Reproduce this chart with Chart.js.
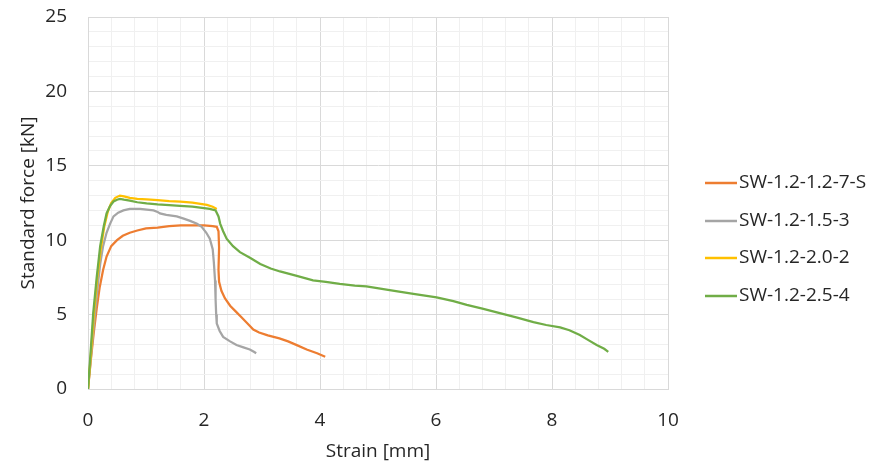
<!DOCTYPE html>
<html>
<head>
<meta charset="utf-8">
<script src="https://cdn.jsdelivr.net/npm/chart.js@4"></script>
<style>
html,body{margin:0;padding:0;background:#fff;}
#wrap{width:878px;height:468px;position:relative;}
</style>
</head>
<body>
<div id="wrap"><canvas id="c" width="878" height="468"></canvas></div>
<script>
const seriesLabels = ['SW-1.2-1.2-7-S', 'SW-1.2-1.5-3', 'SW-1.2-2.0-2', 'SW-1.2-2.5-4'];
const seriesColors = ['#ED7D31', '#A5A5A5', '#FFC000', '#70AD47'];

const orangeX = [0,0.05,0.1,0.15,0.2,0.26,0.32,0.4,0.5,0.6,0.72,0.85,1.0,1.2,1.4,1.6,1.8,2.0,2.15,2.22,2.25,2.26,2.25,2.26,2.3,2.36,2.45,2.55,2.65,2.75,2.85,2.95,3.1,3.3,3.45,3.6,3.77,3.95,4.09];
const orangeY = [0,2.0,3.8,5.4,6.8,8.0,8.9,9.6,10.0,10.3,10.5,10.65,10.8,10.85,10.95,11.0,11.0,11.0,10.95,10.9,10.6,9.5,8.0,7.2,6.6,6.1,5.6,5.2,4.8,4.4,4.0,3.8,3.6,3.4,3.2,2.95,2.65,2.4,2.17];

const grayX = [0,0.05,0.12,0.17,0.21,0.26,0.32,0.38,0.44,0.52,0.61,0.72,0.9,1.13,1.2,1.24,1.35,1.53,1.65,1.76,1.88,1.96,2.04,2.1,2.15,2.17,2.19,2.2,2.21,2.22,2.27,2.33,2.45,2.56,2.68,2.79,2.86,2.9];
const grayY = [0,2.1,5.1,7.0,8.4,9.6,10.5,11.1,11.6,11.85,12.0,12.1,12.1,12.0,11.9,11.8,11.7,11.6,11.45,11.3,11.1,10.9,10.5,10.1,9.4,8.5,7.3,6.0,5.0,4.4,3.9,3.5,3.2,2.96,2.8,2.66,2.5,2.4];

const yellowX = [0,0.05,0.1,0.16,0.22,0.28,0.34,0.4,0.47,0.55,0.62,0.72,0.85,1.01,1.2,1.4,1.59,1.8,2.05,2.15,2.22];
const yellowY = [0,2.3,5.0,7.5,9.4,10.9,11.9,12.5,12.85,13.0,12.95,12.85,12.78,12.74,12.7,12.62,12.6,12.52,12.37,12.25,12.1];

const greenX = [0,0.04,0.09,0.15,0.21,0.27,0.32,0.38,0.44,0.5,0.55,0.62,0.72,0.85,1.01,1.2,1.4,1.59,1.8,2.0,2.1,2.2,2.25,2.28,2.33,2.39,2.5,2.62,2.8,2.97,3.15,3.31,3.6,3.88,4.1,4.34,4.6,4.8,5.2,5.61,6.01,6.3,6.53,6.8,7.1,7.4,7.68,7.9,8.14,8.3,8.48,8.62,8.77,8.9,8.97];
const greenY = [0,2.2,5.1,7.5,9.6,10.9,11.8,12.3,12.6,12.72,12.77,12.72,12.66,12.55,12.47,12.4,12.35,12.3,12.25,12.15,12.1,12.0,11.6,11.1,10.6,10.1,9.6,9.2,8.8,8.4,8.1,7.9,7.6,7.3,7.2,7.06,6.95,6.9,6.65,6.4,6.16,5.9,5.65,5.4,5.1,4.8,4.5,4.3,4.14,3.95,3.63,3.3,2.96,2.7,2.5];

const xTickLabels = [0, 2, 4, 6, 8, 10];
const yTickLabels = [0, 5, 10, 15, 20, 25];

const FONT = "'Open Sans', 'Noto Sans', sans-serif";
const TEXT = '#262626';

function pts(xs, ys) { return xs.map((x, i) => ({x: x, y: ys[i]})); }
const seriesData = [pts(orangeX, orangeY), pts(grayX, grayY), pts(yellowX, yellowY), pts(greenX, greenY)];

function isMajor(v, arr) { return arr.some(t => Math.abs(t - v) < 1e-6); }

const legendPlugin = {
  id: 'customLegend',
  afterDraw(chart) {
    const ctx = chart.ctx;
    ctx.save();
    ctx.font = '19px ' + FONT;
    ctx.textBaseline = 'middle';
    ctx.textAlign = 'left';
    const ys = [183, 221, 258, 296];
    seriesLabels.forEach((lab, i) => {
      ctx.strokeStyle = seriesColors[i];
      ctx.lineWidth = 2.5;
      ctx.beginPath();
      ctx.moveTo(705, ys[i]);
      ctx.lineTo(737, ys[i]);
      ctx.stroke();
      ctx.fillStyle = TEXT;
      ctx.fillText(lab, 739, ys[i]);
    });
    ctx.restore();
  }
};

new Chart(document.getElementById('c'), {
  type: 'scatter',
  data: {
    datasets: seriesData.map((d, i) => ({
      label: seriesLabels[i],
      data: d,
      showLine: true,
      borderColor: seriesColors[i],
      backgroundColor: seriesColors[i],
      borderWidth: 2.25,
      pointRadius: 0,
      tension: 0,
      fill: false,
      order: 3 - i
    }))
  },
  options: {
    responsive: false,
    animation: false,
    events: [],
    layout: { padding: { left: 0, right: 210, top: 17, bottom: 0 } },
    plugins: { legend: { display: false }, tooltip: { enabled: false } },
    scales: {
      x: {
        type: 'linear', min: 0, max: 10,
        afterFit(s) { s.height = 79; },
        ticks: {
          stepSize: 0.4, autoSkip: false, maxRotation: 0, padding: 20,
          font: { family: FONT, size: 19 }, color: TEXT,
          callback(v) { return isMajor(v, xTickLabels) ? String(Math.round(v)) : ''; }
        },
        grid: {
          drawTicks: false,
          color(c) { return isMajor(c.tick.value, xTickLabels) ? '#d9d9d9' : '#f0f0f0'; },
          lineWidth: 1
        },
        border: { color: '#d9d9d9', width: 1 },
        title: { display: true, text: 'Strain [mm]', color: TEXT, font: { family: FONT, size: 19 }, padding: { top: 0, bottom: 5 } }
      },
      y: {
        type: 'linear', min: 0, max: 25,
        afterFit(s) { s.width = 88; s.paddingTop = 0; s.paddingBottom = 0; },
        ticks: {
          stepSize: 1, autoSkip: false, padding: 21,
          font: { family: FONT, size: 19 }, color: TEXT,
          callback(v) { return isMajor(v, yTickLabels) ? String(Math.round(v)) : ''; }
        },
        grid: {
          drawTicks: false,
          color(c) { return isMajor(c.tick.value, yTickLabels) ? '#d9d9d9' : '#f0f0f0'; },
          lineWidth: 1
        },
        border: { color: '#d9d9d9', width: 1 },
        title: { display: true, text: 'Standard force [kN]', color: TEXT, font: { family: FONT, size: 19 }, padding: { top: 17, bottom: 0 } }
      }
    }
  },
  plugins: [legendPlugin]
});
</script>
</body>
</html>
